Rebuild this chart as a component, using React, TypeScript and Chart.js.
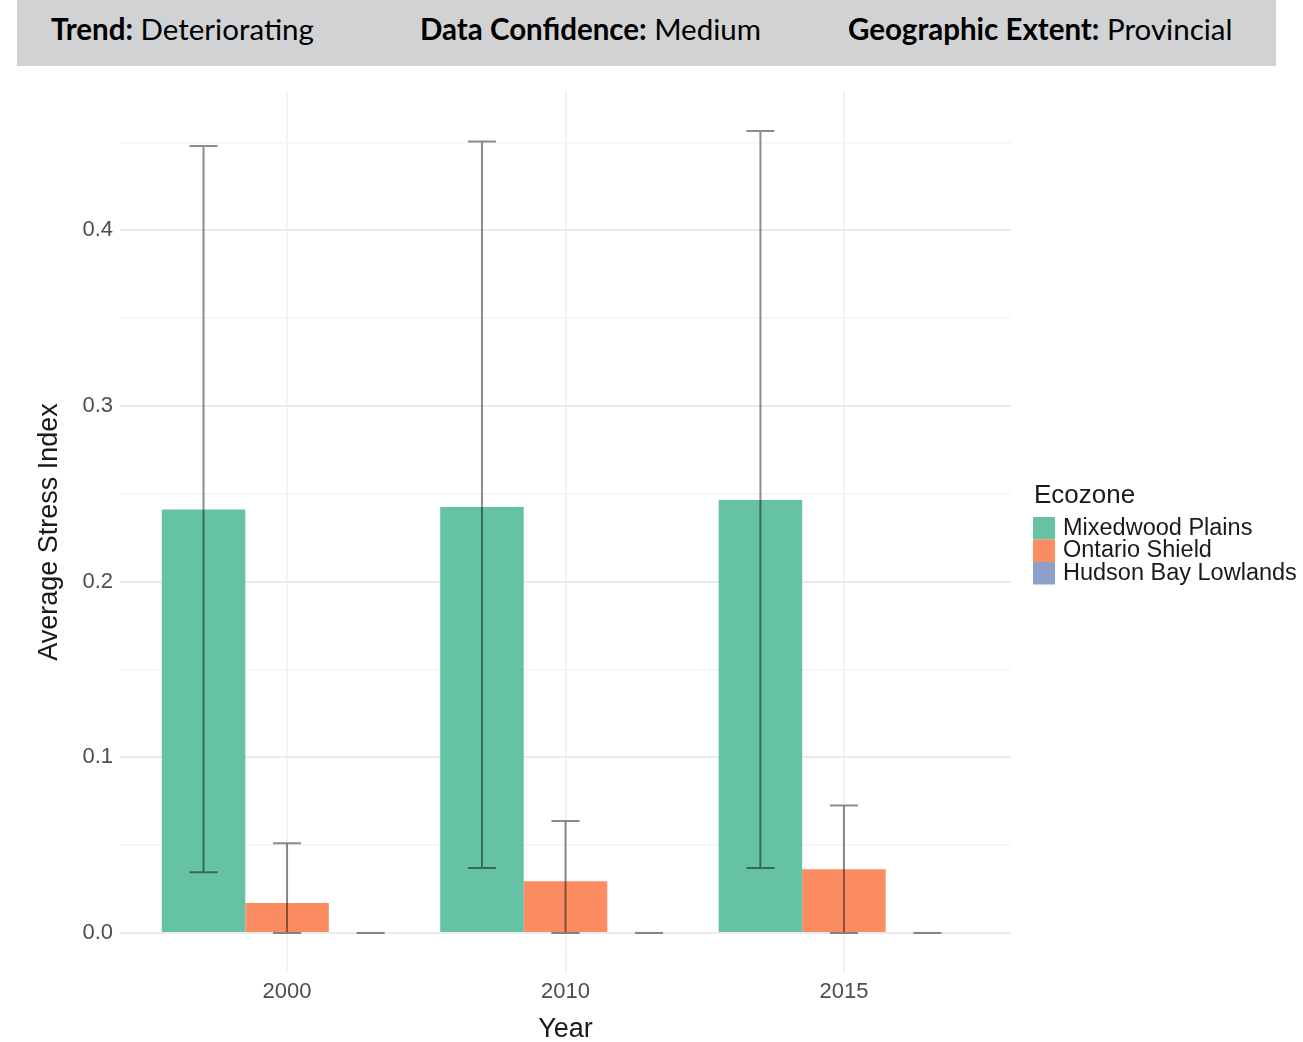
import React, { useEffect, useRef } from 'react';
import { Chart, registerables } from 'chart.js';

Chart.register(...registerables);

// ---------- data ----------
const years = ['2000', '2010', '2015'];
const yearPositions = [1, 2, 3];
const seriesNames = ['Mixedwood Plains', 'Ontario Shield', 'Hudson Bay Lowlands'];
const seriesColors = ['#66c2a5', '#fc8d62', '#8da0cb'];

const mixedwoodMean = [0.241, 0.2425, 0.2465];
const mixedwoodLow = [0.0345, 0.037, 0.037];
const mixedwoodHigh = [0.448, 0.4505, 0.4565];

const ontarioMean = [0.017, 0.0295, 0.0362];
const ontarioLow = [0, 0, 0];
const ontarioHigh = [0.051, 0.0637, 0.0725];

const hudsonMean = [0, 0, 0];
const hudsonLow = [0, 0, 0];
const hudsonHigh = [0, 0, 0];

const yGridValues = [0, 0.05, 0.1, 0.15, 0.2, 0.25, 0.3, 0.35, 0.4, 0.45];
const yLabelValues = [0, 0.1, 0.2, 0.3, 0.4];

const legendTitle = 'Ecozone';
const xTitle = 'Year';
const yTitle = 'Average Stress Index';

const headerItems = [
  { key: 'Trend:', value: 'Deteriorating' },
  { key: 'Data Confidence:', value: 'Medium' },
  { key: 'Geographic Extent:', value: 'Provincial' },
];

// ---------- styling ----------
const FONT = '"Liberation Sans", Arial, sans-serif';
const TICK_COLOR = '#4d4d4d';
const TITLE_COLOR = '#1a1a1a';

const isMajor = (v: number) => yLabelValues.includes(v);

const errorBarPlugin = {
  id: 'errorBars',
  afterDatasetsDraw(chart: any) {
    const { ctx } = chart;
    const y = chart.scales.y;
    chart.data.datasets.forEach((ds: any, d: number) => {
      const meta = chart.getDatasetMeta(d);
      meta.data.forEach((el: any, i: number) => {
        const lo = y.getPixelForValue(ds.errLow[i]);
        const hi = y.getPixelForValue(ds.errHigh[i]);
        const half = el.width * 0.168;
        ctx.save();
        ctx.strokeStyle = 'rgba(0,0,0,0.45)';
        ctx.lineWidth = 2;
        ctx.beginPath();
        if (Math.abs(hi - lo) > 0.5) {
          ctx.moveTo(el.x, lo);
          ctx.lineTo(el.x, hi);
          ctx.moveTo(el.x - half, lo);
          ctx.lineTo(el.x + half, lo);
        }
        ctx.moveTo(el.x - half, hi);
        ctx.lineTo(el.x + half, hi);
        ctx.stroke();
        ctx.restore();
      });
    });
  },
};

const legendPlugin = {
  id: 'ecoLegend',
  afterDraw(chart: any) {
    const { ctx, chartArea } = chart;
    const x0 = chartArea.right + 22;
    const cy = (chartArea.top + chartArea.bottom) / 2;
    ctx.save();
    ctx.textBaseline = 'middle';
    ctx.textAlign = 'left';
    ctx.fillStyle = TITLE_COLOR;
    ctx.font = `26px ${FONT}`;
    ctx.fillText(legendTitle, x0 + 1, cy - 36);
    chart.data.datasets.forEach((ds: any, i: number) => {
      const top = cy - 15 + i * 22.5;
      ctx.fillStyle = ds.backgroundColor;
      ctx.fillRect(x0, top, 22, 22.5);
      ctx.fillStyle = TITLE_COLOR;
      ctx.font = `23.5px ${FONT}`;
      ctx.fillText(ds.label, x0 + 30, top + 11.5);
    });
    ctx.restore();
  },
};

export default function App() {
  const canvasRef = useRef<HTMLCanvasElement | null>(null);

  useEffect(() => {
    const canvas = canvasRef.current;
    if (!canvas) return;
    const means = [mixedwoodMean, ontarioMean, hudsonMean];
    const lows = [mixedwoodLow, ontarioLow, hudsonLow];
    const highs = [mixedwoodHigh, ontarioHigh, hudsonHigh];

    const datasets = seriesNames.map((name, s) => ({
      label: name,
      data: yearPositions.map((xp, i) => ({ x: xp, y: means[s][i] })),
      backgroundColor: seriesColors[s],
      borderWidth: 0,
      categoryPercentage: 0.9,
      barPercentage: 1,
      errLow: lows[s],
      errHigh: highs[s],
    }));

    const chart = new Chart(canvas, {
      type: 'bar',
      data: { datasets } as any,
      options: {
        animation: false,
        responsive: false,
        maintainAspectRatio: false,
        layout: { padding: { top: 91, right: 292, left: 0, bottom: 0 } },
        plugins: {
          legend: { display: false },
          tooltip: { enabled: false },
        },
        scales: {
          x: {
            type: 'linear',
            min: 0.4,
            max: 3.6,
            offset: false,
            afterBuildTicks: (s: any) => {
              s.ticks = yearPositions.map((v) => ({ value: v }));
            },
            afterFit: (s: any) => {
              s.height = 69;
            },
            ticks: {
              autoSkip: false,
              maxRotation: 0,
              padding: 6,
              color: TICK_COLOR,
              font: { family: FONT, size: 22 },
              callback: (v: any) => years[yearPositions.indexOf(v)],
            },
            grid: { color: '#f3f3f3', lineWidth: 2, drawTicks: false, offset: false },
            border: { display: false },
            title: {
              display: true,
              text: xTitle,
              color: TITLE_COLOR,
              font: { family: FONT, size: 27, lineHeight: 0.95 },
              padding: { top: 0, bottom: 0 },
            },
          },
          y: {
            type: 'linear',
            min: -0.0228,
            max: 0.4793,
            afterBuildTicks: (s: any) => {
              s.ticks = yGridValues.map((v) => ({ value: v }));
            },
            afterFit: (s: any) => {
              s.width = 120;
            },
            ticks: {
              autoSkip: false,
              padding: 7,
              color: TICK_COLOR,
              font: { family: FONT, size: 22 },
              callback: (v: any) => (isMajor(v) ? Number(v).toFixed(1) : ''),
            },
            grid: {
              color: (c: any) => (c.tick && isMajor(c.tick.value) ? '#ebebeb' : '#f4f4f4'),
              lineWidth: (c: any) => (c.tick && isMajor(c.tick.value) ? 2 : 1.5),
              drawTicks: false,
            },
            border: { display: false },
            title: {
              display: true,
              text: yTitle,
              color: TITLE_COLOR,
              font: { family: FONT, size: 27, lineHeight: 1.05 },
              padding: { top: 35, bottom: 0 },
            },
          },
        },
      } as any,
      plugins: [errorBarPlugin, legendPlugin],
    });
    return () => chart.destroy();
  }, []);

  const headerLefts = [51, 420, 848];

  return (
    <div
      style={{
        position: 'absolute',
        left: 0,
        top: 0,
        width: 1303,
        height: 1042,
        background: '#ffffff',
        overflow: 'hidden',
      }}
    >
      <canvas
        ref={canvasRef}
        width={1303}
        height={1042}
        style={{ position: 'absolute', left: 0, top: 0, width: 1303, height: 1042 }}
      />
      <div
        style={{
          position: 'absolute',
          left: 17,
          top: 0,
          width: 1259,
          height: 66,
          background: '#d1d2d4',
        }}
      />
      {headerItems.map((h, i) => (
        <div
          key={h.key}
          style={{
            position: 'absolute',
            left: headerLefts[i],
            top: 0,
            height: 58,
            lineHeight: '58px',
            fontFamily: 'Lato, "Open Sans", sans-serif',
            fontSize: 29.5,
            color: '#000000',
            whiteSpace: 'nowrap',
          }}
        >
          <span style={{ fontWeight: 700 }}>{h.key}</span> {h.value}
        </div>
      ))}
    </div>
  );
}
